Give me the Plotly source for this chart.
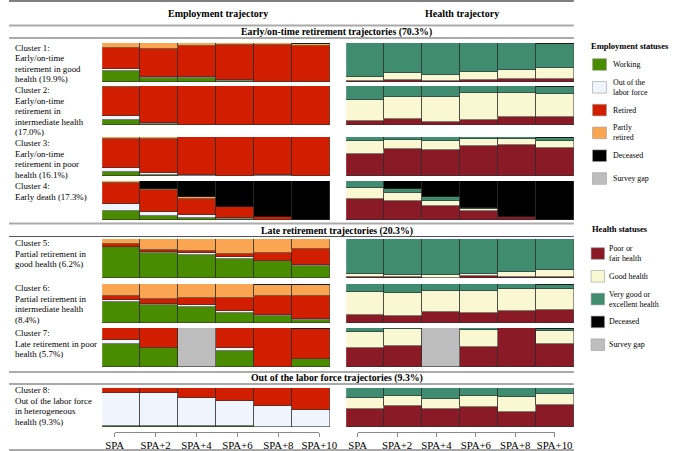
import plotly.graph_objects as go

W, H = 685, 451
FONT = "Liberation Serif"

periods = ["SPA", "SPA+2", "SPA+4", "SPA+6", "SPA+8", "SPA+10"]

emp_states = ["Working", "Out of the<br>labor force", "Retired", "Partly<br>retired", "Deceased", "Survey gap"]
emp_colors = ["#4A8C00", "#EEF5FD", "#D21E00", "#FAA552", "#000000", "#BEBEBE"]
health_states = ["Poor or<br>fair health", "Good health", "Very good or<br>excellent health", "Deceased", "Survey gap"]
health_colors = ["#8A1A25", "#FAF8D2", "#3F8C70", "#000000", "#BEBEBE"]

# Employment shares per cluster, rows: Working, Out of LF, Retired, Partly retired, Deceased, Survey gap
emp_c1 = [[0.28, 0.11, 0.10, 0.03, 0.00, 0.00],
          [0.05, 0.03, 0.03, 0.02, 0.00, 0.00],
          [0.545, 0.71, 0.785, 0.90, 0.96, 0.935],
          [0.125, 0.15, 0.085, 0.05, 0.04, 0.04],
          [0, 0, 0, 0, 0, 0.025],
          [0, 0, 0, 0, 0, 0]]
emp_c2 = [[0.14, 0.02, 0.005, 0.005, 0, 0],
          [0.08, 0.03, 0.005, 0, 0, 0],
          [0.75, 0.94, 0.99, 0.995, 1.0, 0.99],
          [0.03, 0.01, 0, 0, 0, 0],
          [0, 0, 0, 0, 0, 0.01],
          [0, 0, 0, 0, 0, 0]]
emp_c3 = [[0.11, 0.02, 0, 0, 0, 0],
          [0.09, 0.05, 0.02, 0.01, 0.02, 0],
          [0.75, 0.89, 0.97, 0.99, 0.98, 0.99],
          [0.05, 0.04, 0.01, 0, 0, 0],
          [0, 0, 0, 0, 0, 0.01],
          [0, 0, 0, 0, 0, 0]]
emp_c4 = [[0.22, 0.10, 0.06, 0.03, 0, 0],
          [0.19, 0.10, 0.07, 0.03, 0, 0],
          [0.55, 0.575, 0.42, 0.27, 0.085, 0],
          [0.04, 0.025, 0.03, 0, 0, 0],
          [0, 0.20, 0.42, 0.67, 0.915, 1.0],
          [0, 0, 0, 0, 0, 0]]
emp_c5 = [[0.79, 0.63, 0.60, 0.50, 0.44, 0.32],
          [0, 0.03, 0.04, 0.04, 0, 0.02],
          [0.07, 0.07, 0.04, 0.085, 0.19, 0.395],
          [0.14, 0.27, 0.32, 0.375, 0.37, 0.265],
          [0, 0, 0, 0, 0, 0],
          [0, 0, 0, 0, 0, 0]]
emp_c6 = [[0.55, 0.45, 0.42, 0.26, 0.19, 0.085],
          [0.04, 0.03, 0.03, 0.04, 0.025, 0.025],
          [0.11, 0.14, 0.20, 0.34, 0.48, 0.57],
          [0.30, 0.38, 0.35, 0.36, 0.29, 0.29],
          [0, 0, 0, 0, 0.015, 0.03],
          [0, 0, 0, 0, 0, 0]]
emp_c7 = [[0.59, 0.48, 0, 0.40, 0, 0.20],
          [0.10, 0.02, 0, 0.08, 0, 0],
          [0.31, 0.50, 0, 0.52, 1.0, 0.775],
          [0, 0, 0, 0, 0, 0],
          [0, 0, 0, 0, 0, 0.025],
          [0, 0, 1.0, 0, 0, 0]]
emp_c8 = [[0.03, 0.03, 0.02, 0.02, 0, 0],
          [0.83, 0.84, 0.72, 0.655, 0.55, 0.445],
          [0.14, 0.13, 0.26, 0.325, 0.45, 0.555],
          [0, 0, 0, 0, 0, 0],
          [0, 0, 0, 0, 0, 0],
          [0, 0, 0, 0, 0, 0]]

# Health shares per cluster, rows: Poor/fair, Good, Very good/excellent, Deceased, Survey gap
h_c1 = [[0.02, 0.05, 0.03, 0.06, 0.08, 0.085],
        [0.11, 0.17, 0.14, 0.20, 0.22, 0.27],
        [0.87, 0.78, 0.83, 0.74, 0.70, 0.62],
        [0, 0, 0, 0, 0, 0.025],
        [0, 0, 0, 0, 0, 0]]
h_c2 = [[0.09, 0.16, 0.08, 0.14, 0.20, 0.20],
        [0.56, 0.56, 0.64, 0.68, 0.62, 0.605],
        [0.35, 0.28, 0.28, 0.18, 0.18, 0.175],
        [0, 0, 0, 0, 0, 0.02],
        [0, 0, 0, 0, 0, 0]]
h_c3 = [[0.56, 0.68, 0.66, 0.77, 0.80, 0.72],
        [0.33, 0.25, 0.25, 0.18, 0.15, 0.18],
        [0.11, 0.07, 0.09, 0.05, 0.05, 0.08],
        [0, 0, 0, 0, 0, 0.02],
        [0, 0, 0, 0, 0, 0]]
h_c4 = [[0.535, 0.48, 0.35, 0.22, 0.08, 0],
        [0.28, 0.21, 0.14, 0.06, 0, 0],
        [0.185, 0.11, 0.10, 0.04, 0, 0],
        [0, 0.20, 0.41, 0.68, 0.92, 1.0],
        [0, 0, 0, 0, 0, 0]]
h_c5 = [[0.02, 0.02, 0.01, 0.04, 0.03, 0.03],
        [0.08, 0.05, 0.07, 0.06, 0.12, 0.17],
        [0.90, 0.93, 0.92, 0.90, 0.85, 0.80],
        [0, 0, 0, 0, 0, 0],
        [0, 0, 0, 0, 0, 0]]
h_c6 = [[0.21, 0.19, 0.29, 0.25, 0.315, 0.34],
        [0.58, 0.57, 0.54, 0.57, 0.55, 0.535],
        [0.21, 0.24, 0.17, 0.18, 0.135, 0.095],
        [0, 0, 0, 0, 0, 0.03],
        [0, 0, 0, 0, 0, 0]]
h_c7 = [[0.50, 0.54, 0, 0.52, 1.0, 0.59],
        [0.41, 0.44, 0, 0.42, 0, 0.335],
        [0.09, 0.02, 0, 0.06, 0, 0.05],
        [0, 0, 0, 0, 0, 0.025],
        [0, 0, 1.0, 0, 0, 0]]
h_c8 = [[0.465, 0.55, 0.46, 0.515, 0.385, 0.565],
        [0.27, 0.24, 0.26, 0.28, 0.385, 0.275],
        [0.265, 0.21, 0.28, 0.205, 0.23, 0.16],
        [0, 0, 0, 0, 0, 0],
        [0, 0, 0, 0, 0, 0]]

cluster_labels = [
    ["Cluster 1:", "Early/on-time", "retirement in good", "health (19.9%)"],
    ["Cluster 2:", "Early/on-time", "retirement in", "intermediate health", "(17.0%)"],
    ["Cluster 3:", "Early/on-time", "retirement in poor", "health (16.1%)"],
    ["Cluster 4:", "Early death (17.3%)"],
    ["Cluster 5:", "Partial retirement in", "good health (6.2%)"],
    ["Cluster 6:", "Partial retirement in", "intermediate health", "(8.4%)"],
    ["Cluster 7:", "Late retirement in poor", "health (5.7%)"],
    ["Cluster 8:", "Out of the labor force", "in heterogeneous", "health (9.3%)"],
]
column_titles = ["Employment trajectory", "Health trajectory"]
section_titles = ["Early/on-time retirement trajectories (70.3%)",
                  "Late retirement trajectories (20.3%)",
                  "Out of the labor force trajectories (9.3%)"]
legend_titles = ["Employment statuses", "Health statuses"]

emp_data = [emp_c1, emp_c2, emp_c3, emp_c4, emp_c5, emp_c6, emp_c7, emp_c8]
health_data = [h_c1, h_c2, h_c3, h_c4, h_c5, h_c6, h_c7, h_c8]

# ---------- layout geometry (pixels) ----------
panel_tops = [43, 86, 137, 181, 239, 284, 328, 388]
panel_h = 39
left_x = (97, 334)
right_x = (351, 588)
label_first_y = [47.5, 90, 143, 186, 243, 288, 333, 390]
label_step = 10.6


def px(x):
    return x / W


def py(y):
    return 1 - y / H


fig = go.Figure()
layout_axes = {}
EDGE = dict(color="rgba(45,45,45,0.85)", width=0.7)


def axname(k, letter):
    return letter if k == 1 else f"{letter}{k}"


for i in range(8):
    for side, (data, colors, xr) in enumerate([(emp_data[i], emp_colors, left_x),
                                                 (health_data[i], health_colors, right_x)]):
        k = 2 * i + 1 + side
        for s, vals in enumerate(data):
            fig.add_trace(go.Bar(
                x=periods, y=[v if v > 0 else None for v in vals],
                marker=dict(color=colors[s], line=EDGE),
                xaxis=axname(k, "x"), yaxis=axname(k, "y"),
                showlegend=False, hoverinfo="skip"))
        layout_axes[f"xaxis{k}"] = dict(domain=[px(xr[0]), px(xr[1])], range=[-0.5, 5.5],
                                        type="category", visible=False, anchor=axname(k, "y"),
                                        fixedrange=True)
        layout_axes[f"yaxis{k}"] = dict(domain=[py(panel_tops[i] + panel_h), py(panel_tops[i])],
                                        range=[0, 1], visible=False, anchor=axname(k, "x"),
                                        fixedrange=True)

# tick axes under each column
for k, (x0, x1) in zip([17, 18], [(110, 323), (363, 568)]):
    fig.add_trace(go.Scatter(x=periods, y=[0] * len(periods), mode="markers",
                             marker=dict(opacity=0), xaxis=f"x{k}", yaxis=f"y{k}",
                             showlegend=False, hoverinfo="skip"))
    layout_axes[f"xaxis{k}"] = dict(domain=[px(x0), px(x1)], type="category", range=[0, 5],
                                    showline=True, linecolor="#8a8a8a", linewidth=1,
                                    ticks="outside", ticklen=4, tickcolor="#8a8a8a",
                                    showgrid=False, zeroline=False, anchor=f"y{k}",
                                    fixedrange=True,
                                    tickfont=dict(family=FONT, size=10.8, color="#000"))
    layout_axes[f"yaxis{k}"] = dict(domain=[py(431.5), py(430.5)], visible=False,
                                    anchor=f"x{k}", fixedrange=True)

shapes = []
for y, col, wd in [(1, "#555", 1.5), (25.5, "#aaa", 2), (38, "#555", 1),
                   (223.5, "#aaa", 2), (236.5, "#555", 1),
                   (372, "#aaa", 2), (384, "#555", 1), (450, "#555", 1)]:
    shapes.append(dict(type="line", xref="paper", yref="paper", x0=0, x1=px(588),
                       y0=py(y), y1=py(y), line=dict(color=col, width=wd)))

annotations = []


def text(x, y, t, size=9.5, bold=False, anchor="left"):
    annotations.append(dict(x=px(x), y=py(y), xref="paper", yref="paper",
                            text=f"<b>{t}</b>" if bold else t, showarrow=False,
                            xanchor=anchor, yanchor="middle", align=anchor,
                            borderpad=0, borderwidth=0,
                            font=dict(family=FONT, size=size, color="#000")))


text(218, 14, column_titles[0], 10, True, "center")
text(472, 14, column_titles[1], 10, True, "center")
for t, y in zip(section_titles, [32, 231, 378]):
    text(341, y, t, 9.8, True, "center")

for lines, y0 in zip(cluster_labels, label_first_y):
    for j, ln in enumerate(lines):
        text(6, y0 + j * label_step, ln, 8.9)

# legends
text(606, 46, legend_titles[0], 8.5, True)
for j, (lab, col) in enumerate(zip(emp_states, emp_colors)):
    yc = 64.5 + j * 22.8
    shapes.append(dict(type="rect", xref="paper", yref="paper", x0=px(607.5), x1=px(622),
                       y0=py(yc + 5.8), y1=py(yc - 5.8), fillcolor=col,
                       line=dict(color="#9a9a9a", width=0.6)))
    text(629, yc, lab, 7.9)

text(607, 229, legend_titles[1], 8.5, True)
for j, (lab, col) in enumerate(zip(health_states, health_colors)):
    yc = 253.5 + j * 22.8
    shapes.append(dict(type="rect", xref="paper", yref="paper", x0=px(606), x1=px(620),
                       y0=py(yc + 5.8), y1=py(yc - 5.8), fillcolor=col,
                       line=dict(color="#9a9a9a", width=0.6)))
    text(625, yc, lab, 7.9)

fig.update_layout(width=W, height=H, margin=dict(l=0, r=0, t=0, b=0),
                  paper_bgcolor="white", plot_bgcolor="rgba(0,0,0,0)",
                  barmode="stack", bargap=0, showlegend=False,
                  shapes=shapes, annotations=annotations, **layout_axes)

fig.write_html("out.html", config={"displayModeBar": False},
               post_script="document.body.style.margin='0';document.body.style.overflow='hidden';")
